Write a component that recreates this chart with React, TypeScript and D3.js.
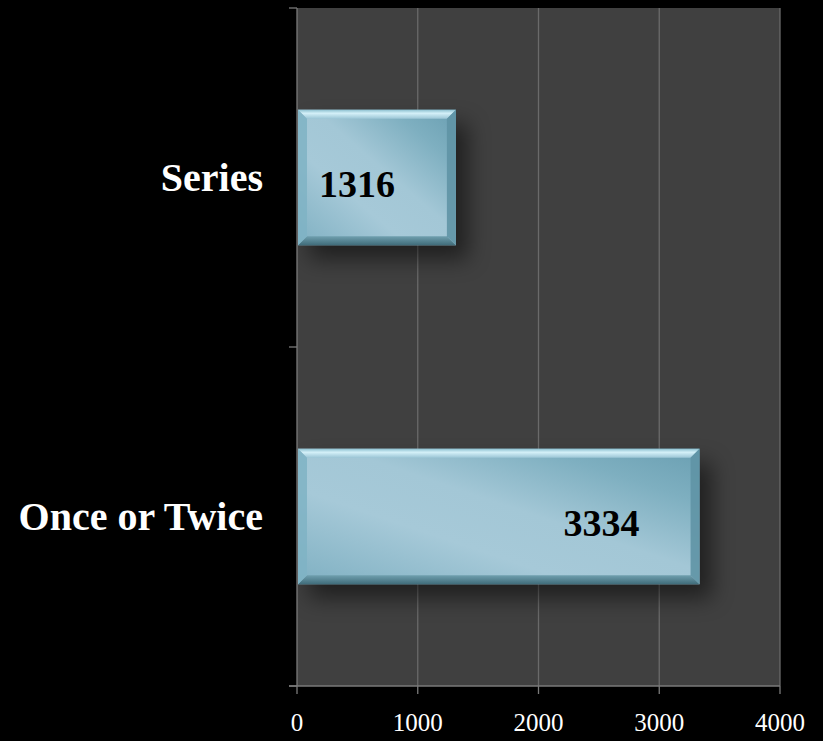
import React from "react";
import * as d3 from "d3";

const categories = ["Series", "Once or Twice"];
const values = [1316, 3334];
const xTicks = [0, 1000, 2000, 3000, 4000];

const W = 823;
const H = 741;
const margin = { left: 297, right: 43, top: 8, bottom: 55 };
const FONT = "'Palatino Linotype', 'Book Antiqua', Palatino, 'Liberation Serif', 'DejaVu Serif', serif";

export default function App() {
  const x = d3.scaleLinear().domain([0, 4000]).range([margin.left, W - margin.right]);
  const y = d3
    .scaleBand<string>()
    .domain(categories)
    .range([margin.top, H - margin.bottom])
    .paddingInner(0.6)
    .paddingOuter(0.3);
  const bandEdges = [margin.top, (margin.top + H - margin.bottom) / 2, H - margin.bottom];
  const bev = 9;
  const x0 = x(0);
  const yb = H - margin.bottom;

  return (
    <svg width={W} height={H} style={{ position: "absolute", left: 0, top: 0, background: "#000" }}>
      <defs>
        <linearGradient id="barFill" x1="0" y1="1" x2="1" y2="0">
          <stop offset="0" stopColor="#7fb0c2" />
          <stop offset="0.35" stopColor="#a6c9d8" />
          <stop offset="0.55" stopColor="#a3c7d6" />
          <stop offset="0.8" stopColor="#7eafc0" />
          <stop offset="1" stopColor="#6a9fb2" />
        </linearGradient>
        <linearGradient id="topBev" x1="0" y1="0" x2="0" y2="1">
          <stop offset="0" stopColor="#8cc0d0" />
          <stop offset="0.4" stopColor="#d4f0f8" />
          <stop offset="1" stopColor="#9cc6d6" />
        </linearGradient>
        <linearGradient id="botBev" x1="0" y1="0" x2="0" y2="1">
          <stop offset="0" stopColor="#6f9fae" />
          <stop offset="1" stopColor="#3f6b79" />
        </linearGradient>
        <filter id="shadow" x="-20%" y="-30%" width="150%" height="170%">
          <feGaussianBlur stdDeviation="11" />
        </filter>
      </defs>
      <rect width={W} height={H} fill="#000" />
      <rect
        x={x0}
        y={margin.top}
        width={x(4000) - x0}
        height={yb - margin.top}
        fill="#404040"
      />
      {xTicks.slice(1).map((t) => (
        <line key={"g" + t} x1={x(t)} x2={x(t)} y1={margin.top} y2={yb} stroke="#6a6a6a" strokeWidth={1.3} />
      ))}
      {/* shadows */}
      {categories.map((c, i) => {
        const by = y(c)!;
        const bh = y.bandwidth();
        return (
          <rect
            key={"s" + c}
            x={x0 + 12}
            y={by + 14}
            width={x(values[i]) - x0}
            height={bh}
            fill="#000"
            opacity={0.5}
            filter="url(#shadow)"
          />
        );
      })}
      {/* axes */}
      <line x1={x0} x2={x0} y1={margin.top} y2={yb} stroke="#7a7a7a" strokeWidth={1.3} />
      <line x1={x0 - 8} x2={x(4000)} y1={yb} y2={yb} stroke="#7a7a7a" strokeWidth={1.3} />
      {bandEdges.map((e, i) => (
        <line key={"yt" + i} x1={x0 - 8} x2={x0} y1={e} y2={e} stroke="#7a7a7a" strokeWidth={1.3} />
      ))}
      {xTicks.map((t) => (
        <line key={"xt" + t} x1={x(t)} x2={x(t)} y1={yb} y2={yb + 8} stroke="#7a7a7a" strokeWidth={1.3} />
      ))}
      {xTicks.map((t) => (
        <text
          key={"xl" + t}
          x={x(t)}
          y={yb + 45}
          fill="#fff"
          fontFamily={FONT}
          fontSize={25}
          textAnchor="middle"
        >
          {t}
        </text>
      ))}
      {/* bars */}
      {categories.map((c, i) => {
        const by = y(c)!;
        const bh = y.bandwidth();
        const bx = x0 + 1;
        const bw = x(values[i]) - bx;
        const r = bx + bw;
        const b = by + bh;
        return (
          <g key={"b" + c}>
            <rect x={bx} y={by} width={bw} height={bh} fill="url(#barFill)" />
            <polygon
              points={`${bx},${by} ${r},${by} ${r - bev},${by + bev} ${bx + bev},${by + bev}`}
              fill="url(#topBev)"
            />
            <polygon
              points={`${bx},${b} ${r},${b} ${r - bev},${b - bev} ${bx + bev},${b - bev}`}
              fill="url(#botBev)"
            />
            <polygon
              points={`${bx},${by} ${bx + bev},${by + bev} ${bx + bev},${b - bev} ${bx},${b}`}
              fill="#7fb3c4"
              opacity={0.85}
            />
            <polygon
              points={`${r},${by} ${r - bev},${by + bev} ${r - bev},${b - bev} ${r},${b}`}
              fill="#5f93a5"
              opacity={0.9}
            />
          </g>
        );
      })}
      {/* value labels */}
      {categories.map((c, i) => {
        const by = y(c)!;
        const bh = y.bandwidth();
        const lx = i === 0 ? x0 + 22 : x(values[i]) - 136;
        return (
          <text
            key={"v" + c}
            x={lx}
            y={by + bh / 2 + 19}
            fill="#000"
            fontFamily={FONT}
            fontWeight="bold"
            fontSize={38}
          >
            {values[i]}
          </text>
        );
      })}
      {/* category labels */}
      {categories.map((c) => {
        const by = y(c)!;
        const bh = y.bandwidth();
        return (
          <text
            key={"c" + c}
            x={263}
            y={by + bh / 2 + 13}
            fill="#fff"
            fontFamily={FONT}
            fontWeight="bold"
            fontSize={40}
            textAnchor="end"
          >
            {c}
          </text>
        );
      })}
    </svg>
  );
}
